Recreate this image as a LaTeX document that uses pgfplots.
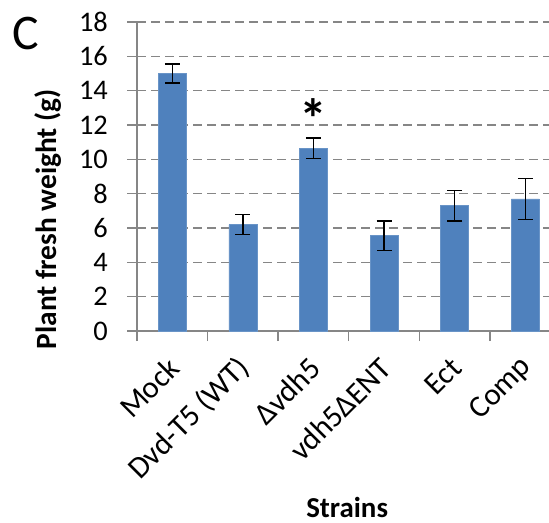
\documentclass[border=0pt]{standalone}
\usepackage{fontspec}
\setmainfont{Carlito}
\usepackage{pgfplots}
\pgfplotsset{compat=1.18}
\definecolor{barblue}{HTML}{4F81BD}
\definecolor{axgray}{HTML}{868686}
\begin{document}
\begin{tikzpicture}
\useasboundingbox (0,0) rectangle (549bp,523bp);
\begin{axis}[
  at={(137bp,192bp)}, anchor=south west,
  scale only axis, width=412bp, height=309bp,
  xmin=-0.5, xmax=5.336, ymin=0, ymax=18,
  ytick={0,2,...,18},
  xtick={-0.5,0.5,...,4.5},
  xticklabels={},
  extra x ticks={0,1,2,3,4,5},
  extra x tick labels={Mock,Dvd-T5 (WT),Δvdh5,vdh5ΔENT,Ect,Comp},
  extra x tick style={tick style={draw=none},
    xticklabel style={xshift=2bp, yshift=-22bp, rotate=45, anchor=east, inner sep=0pt,
      font=\fontsize{31}{34}\selectfont}},
  axis x line*=bottom, axis y line*=left,
  axis line style={axgray, line width=1.4bp},
  ymajorgrids,
  grid style={axgray, line width=1.2bp, dash pattern=on 9bp off 5bp},
  tick style={axgray, line width=1.4bp},
  tick align=outside,
  major tick length=10bp,
  /pgf/number format/assume math mode=true,
  tick label style={font=\fontsize{28.5}{32}\selectfont, black},
  yticklabel style={inner sep=0pt, xshift=-19bp},
  ylabel={Plant fresh weight (g)},
  ylabel style={font=\bfseries\fontsize{29.5}{32}\selectfont, at={(axis description cs:-0.216,0.362)}, anchor=center, inner sep=0pt},
  xlabel={Strains},
  xlabel style={font=\bfseries\fontsize{29}{32}\selectfont, at={(axis description cs:0.51,-0.57)}, anchor=center, inner sep=0pt},
  ybar, bar width=28bp,
  clip=false,
]
\addplot[fill=barblue, draw=barblue!85!white, line width=0.6bp,
  error bars/.cd, y dir=both, y explicit,
  error bar style={black, line width=1.3bp},
  error mark options={rotate=90, mark size=7.5bp, line width=1.3bp, black}]
  coordinates {
  (0,15.0) +- (0,0.55)
  (1,6.2) +- (0,0.58)
  (2,10.65) +- (0,0.6)
  (3,5.55) +- (0,0.85)
  (4,7.3) +- (0,0.9)
  (5,7.7) +- (0,1.2)
  };
\node[font=\bfseries\fontsize{56}{56}\selectfont, inner sep=0pt] at (axis cs:2,12.4) {*};
\end{axis}
\node[font=\fontsize{50}{50}\selectfont] at (26bp,489bp) {C};
\end{tikzpicture}
\end{document}
